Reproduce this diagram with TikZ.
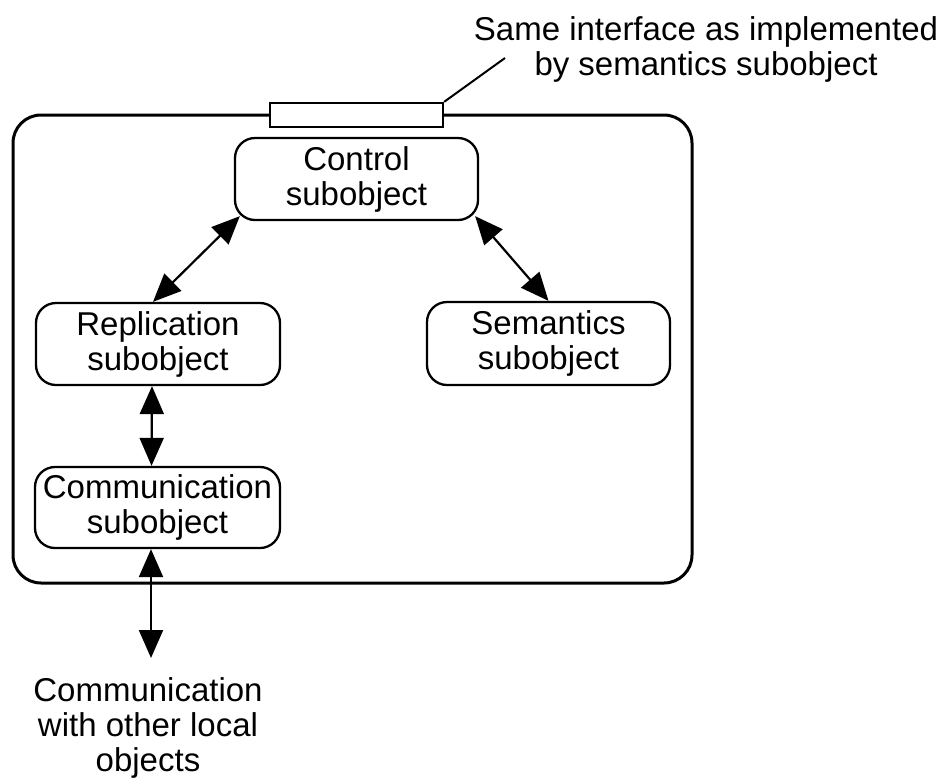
\documentclass[tikz,border=0pt]{standalone}
\usepackage{fontspec}
\setmainfont{Liberation Sans}
\usetikzlibrary{arrows.meta}
\begin{document}
\begin{tikzpicture}[x=1pt,y=-1pt,
  every node/.style={font=\fontsize{33}{35}\selectfont, inner sep=0pt, align=center},
  subbox/.style={draw, line width=2.3pt, rounded corners=20pt},
  dblarrow/.style={line width=2.2pt, {Triangle[length=28pt,width=24pt]}-{Triangle[length=28pt,width=24pt]}},
  frameline/.style={line width=3pt, rounded corners=28pt}]
\useasboundingbox (0,0) rectangle (940,780);
% outer object frame
\draw[frameline] (13,115) rectangle (692,583);
% interface
\node[draw, line width=2.3pt, fill=white, minimum width=173pt, minimum height=24pt] (iface) at (356.5,115) {};
% label
\node (note) at (706,49) {Same interface as implemented\\by semantics subobject};
\coordinate (leadend) at (505,58);
\draw[line width=2pt] (iface.north east) -- (leadend);
% subobjects
\node[subbox, minimum width=243pt, minimum height=82pt] (ctrl) at (356.5,179) {Control\\subobject};
\node[subbox, minimum width=244pt, minimum height=82pt] (rep) at (158,344) {Replication\\subobject};
\node[subbox, minimum width=243pt, minimum height=83pt] (sem) at (548.5,343.5) {Semantics\\subobject};
\node[subbox, minimum width=245pt, minimum height=81pt] (comm) at (157.5,507.5) {Communication\\subobject};
% bottom label
\node (other) at (148,728) {Communication\\with other local\\objects};
\coordinate (outend) at (151,658);
% connectors
\draw[dblarrow] ([xshift=6pt,yshift=5pt]ctrl.south west) -- ([xshift=-5pt]rep.north);
\draw[dblarrow] ([xshift=-4pt,yshift=5pt]ctrl.south east) -- (sem.north);
\draw[dblarrow] ([xshift=-6pt]rep.south) -- ([xshift=-6pt]comm.north);
\draw[dblarrow] ([xshift=-6.5pt]comm.south) -- (outend);
\end{tikzpicture}
\end{document}
